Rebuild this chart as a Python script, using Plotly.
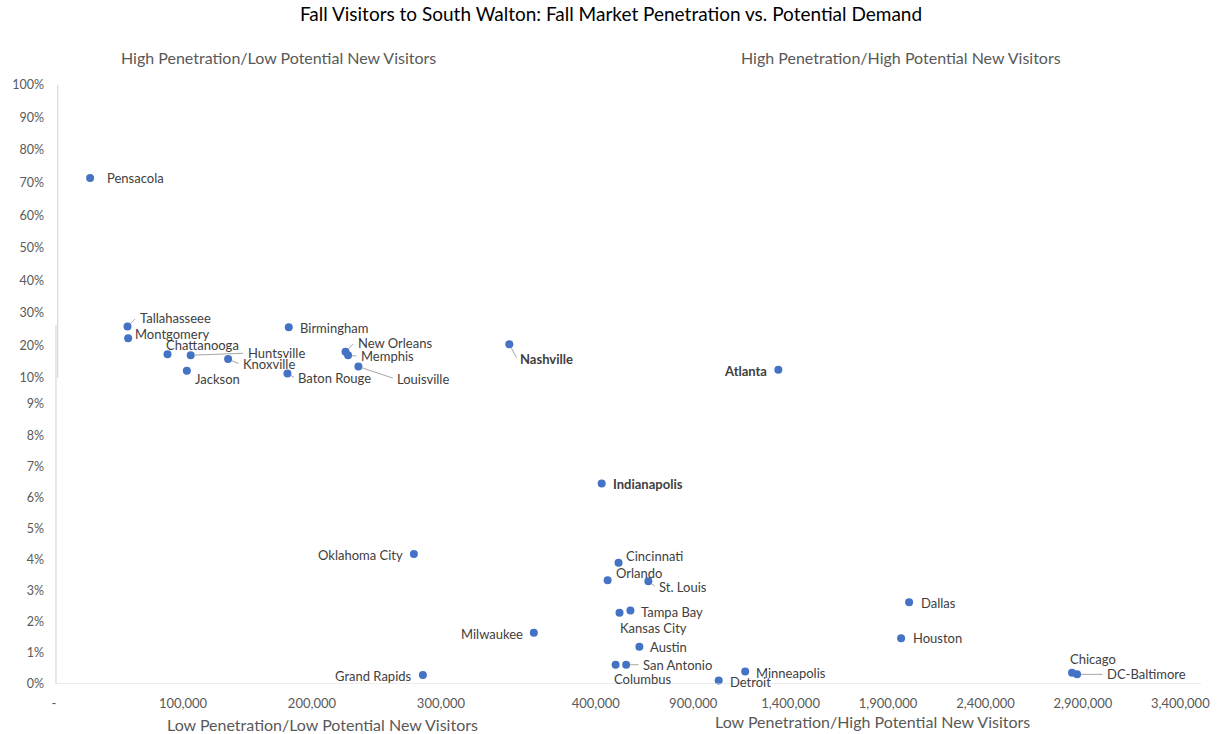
import numpy as np
import plotly.graph_objects as go

# ---------------- data ----------------
CITIES = ["Pensacola", "Tallahasseee", "Montgomery", "Chattanooga", "Huntsville",
          "Knoxville", "Jackson", "Birmingham", "Baton Rouge", "New Orleans",
          "Memphis", "Louisville", "Nashville", "Atlanta", "Indianapolis",
          "Oklahoma City", "Cincinnati", "Orlando", "St. Louis", "Tampa Bay",
          "Kansas City", "Milwaukee", "Austin", "San Antonio", "Columbus",
          "Grand Rapids", "Detroit", "Minneapolis", "Dallas", "Houston",
          "Chicago", "DC-Baltimore"]
POTENTIAL_VISITORS = [28000, 57000, 57500, 88000, 106000,
                      135000, 103000, 182000, 181000, 226000,
                      228000, 236000, 353000, 1337000, 430500,
                      279000, 517000, 461000, 670000, 578000,
                      522000, 372000, 624000, 556000, 502000,
                      286000, 1031000, 1167000, 2008000, 1967000,
                      2844000, 2870000]
PENETRATION_PCT = [71.4, 25.8, 22.2, 17.3, 17.0,
                   15.8, 12.2, 25.6, 11.4, 18.1,
                   17.0, 13.5, 20.4, 12.5, 6.45,
                   4.18, 3.90, 3.34, 3.30, 2.36,
                   2.29, 1.65, 1.20, 0.62, 0.62,
                   0.29, 0.11, 0.40, 2.63, 1.47,
                   0.36, 0.31]
BOLD_CITIES = ["Nashville", "Atlanta", "Indianapolis"]

X_TICK_VALUES = [0, 100000, 200000, 300000, 400000, 900000, 1400000,
                 1900000, 2400000, 2900000, 3400000]
X_TICK_TEXT = ["-", "100,000", "200,000", "300,000", "400,000", "900,000",
               "1,400,000", "1,900,000", "2,400,000", "2,900,000", "3,400,000"]
Y_TICK_VALUES = [0, 1, 2, 3, 4, 5, 6, 7, 8, 9, 10, 20, 30, 40, 50, 60, 70, 80, 90, 100]
Y_TICK_TEXT = [f"{v}%" for v in Y_TICK_VALUES]

TITLE = "Fall Visitors to South Walton: Fall Market Penetration vs. Potential Demand"

# ---------------- broken-axis scales (two overlaid Excel charts) ----------------
X_BREAK_VALS = [0, 300000, 390000, 400000, 3400000]
X_BREAK_POS = [49, 439, 556, 595, 1184.2]
Y_BREAK_VALS = [0, 9, 10, 100]
Y_BREAK_POS = [0, 279.9, 306, 599]


def sx(v):
    return np.interp(v, X_BREAK_VALS, X_BREAK_POS)


def sy(v):
    return np.interp(v, Y_BREAK_VALS, Y_BREAK_POS)


xs = sx(np.array(POTENTIAL_VISITORS, dtype=float))
ys = sy(np.array(PENETRATION_PCT, dtype=float))

FONT = "Lato, Calibri, Carlito, sans-serif"
LABEL_COLOR = "#404040"
AXIS_TEXT = "#595959"
LEADER = "#a6a6a6"
BLUE = "#4472C4"

# label placement: anchor, dx, dy (screen px, dy down), leader line?
LABEL_LAYOUT = {
    "Pensacola": ("left", 16, 0, False),
    "Tallahasseee": ("left", 11, -9, True),
    "Montgomery": ("left", 6, -4, False),
    "Chattanooga": ("left", -3, -9, False),
    "Huntsville": ("left", 56, -2, True),
    "Knoxville": ("left", 14, 5, True),
    "Jackson": ("left", 7, 8, False),
    "Birmingham": ("left", 10, 1, False),
    "Baton Rouge": ("left", 10, 5, True),
    "New Orleans": ("left", 11, -9, True),
    "Memphis": ("left", 12, 1, True),
    "Louisville": ("left", 38, 12, True),
    "Nashville": ("left", 10, 15, True),
    "Atlanta": ("right", -10, 1, False),
    "Indianapolis": ("left", 10, 1, False),
    "Oklahoma City": ("right", -10, 1, False),
    "Cincinnati": ("left", 6, -7, False),
    "Orlando": ("left", 7, -7, False),
    "St. Louis": ("left", 10, 6, True),
    "Tampa Bay": ("left", 10, 1, False),
    "Kansas City": ("left", -1, 15, False),
    "Milwaukee": ("right", -10, 1, False),
    "Austin": ("left", 10, 0, False),
    "San Antonio": ("left", 16, 0, True),
    "Columbus": ("left", -3, 14, False),
    "Grand Rapids": ("right", -10, 1, False),
    "Detroit": ("left", 10, 1, False),
    "Minneapolis": ("left", 10, 1, False),
    "Dallas": ("left", 11, 1, False),
    "Houston": ("left", 11, 0, False),
    "Chicago": ("left", -3, -14, False),
    "DC-Baltimore": ("left", 29, 0, True),
}

fig = go.Figure()
fig.add_trace(go.Scatter(
    x=xs, y=ys, mode="markers", text=CITIES,
    marker=dict(color=BLUE, size=8, line=dict(width=0)),
    cliponaxis=False, hoverinfo="text", showlegend=False,
))

annotations = []
for city, x, y in zip(CITIES, xs, ys):
    anchor, dx, dy, leader = LABEL_LAYOUT[city]
    txt = f"<b>{city}</b>" if city in BOLD_CITIES else city
    if leader:
        annotations.append(dict(
            x=x, y=y, xref="x", yref="y", text="", showarrow=True,
            arrowhead=0, arrowwidth=1, arrowcolor=LEADER,
            ax=dx - 2, ay=dy, standoff=4,
        ))
    annotations.append(dict(
        x=x, y=y, xref="x", yref="y", text=txt, showarrow=False,
        xanchor=anchor, yanchor="middle", xshift=dx, yshift=-dy,
        font=dict(family=FONT, size=13, color=LABEL_COLOR),
        borderpad=0,
    ))

# quadrant captions
QUAD_FONT = dict(family=FONT, size=16, color=AXIS_TEXT)
for text, px, py in [
    ("High Penetration/Low Potential New Visitors", 275, 57),
    ("High Penetration/High Potential New Visitors", 903, 57),
    ("Low Penetration/Low Potential New Visitors", 320, 724),
    ("Low Penetration/High Potential New Visitors", 874, 721),
]:
    annotations.append(dict(
        x=(px - 47) / 1158, y=(684 - py) / 600, xref="paper", yref="paper",
        text=text, showarrow=False, xanchor="center", yanchor="middle",
        font=QUAD_FONT,
    ))

shapes = [
    dict(type="line", xref="x", yref="y", x0=51, x1=1205, y0=0, y1=0,
         line=dict(color="#d9d9d9", width=1.2)),
    dict(type="line", xref="x", yref="y", x0=52.7, x1=52.7, y0=306, y1=599,
         line=dict(color="#d9d9d9", width=1.2)),
    dict(type="line", xref="x", yref="y", x0=51, x1=51, y0=0, y1=359,
         line=dict(color="#d9d9d9", width=1.2)),
]

fig.update_layout(
    width=1222, height=734,
    margin=dict(l=47, r=17, t=84, b=50),
    paper_bgcolor="white", plot_bgcolor="white",
    title=dict(text=TITLE, x=0.5, xref="container", xanchor="center",
               y=1 - 14 / 734, yref="container", yanchor="middle",
               font=dict(family=FONT, size=19, color="#000000")),
    xaxis=dict(range=[47, 1205], showgrid=False, zeroline=False, showline=False,
               tickvals=sx(np.array(X_TICK_VALUES, dtype=float)), ticktext=X_TICK_TEXT,
               ticks="", ticklabelstandoff=10,
               tickfont=dict(family=FONT, size=13, color=AXIS_TEXT)),
    yaxis=dict(range=[0, 600], showgrid=False, zeroline=False, showline=False,
               tickvals=sy(np.array(Y_TICK_VALUES, dtype=float)), ticktext=Y_TICK_TEXT,
               ticks="", ticklabelstandoff=7,
               tickfont=dict(family=FONT, size=12.5, color=AXIS_TEXT)),
    annotations=annotations,
    shapes=shapes,
)

fig.write_html("out.html", config={"displayModeBar": False})

# remove the browser's default page margin so the figure fills the window exactly
with open("out.html", "r", encoding="utf-8") as f:
    html = f.read()
html = html.replace("<head>", "<head><style>html,body{margin:0;padding:0;overflow:hidden;}</style>", 1)
with open("out.html", "w", encoding="utf-8") as f:
    f.write(html)
